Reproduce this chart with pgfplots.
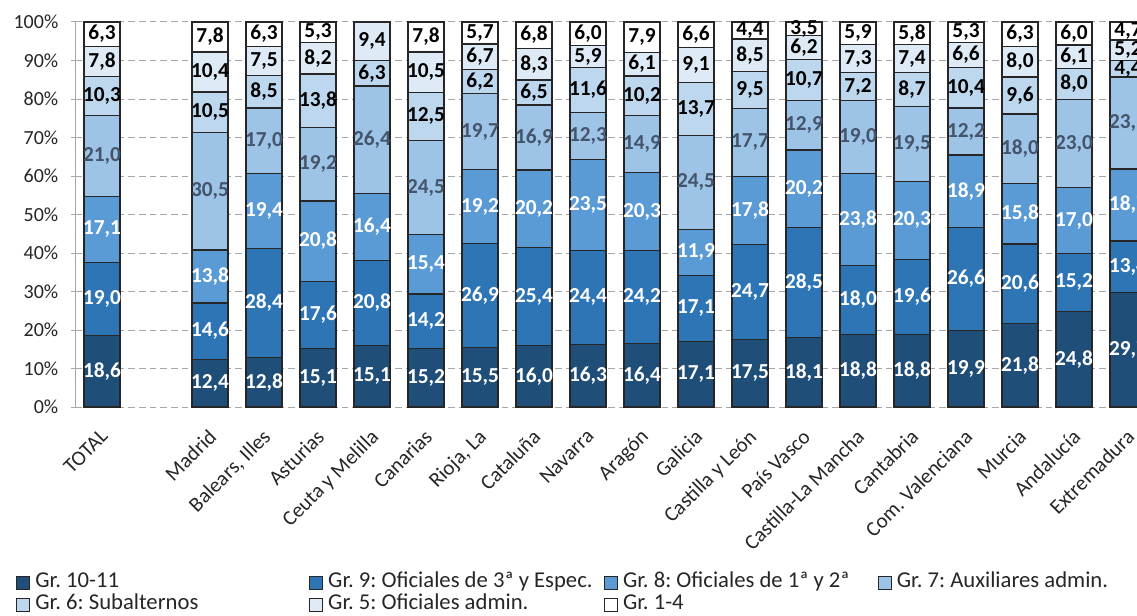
\documentclass[border=0pt]{standalone}
\usepackage{pgfplots}
\pgfplotsset{compat=1.18}
\usepackage{pgfplotstable}
\usepackage{fontspec}
\setmainfont{Carlito}
\frenchspacing

\definecolor{g1011}{RGB}{31,78,121}
\definecolor{g9}{RGB}{46,117,182}
\definecolor{g8}{RGB}{91,155,213}
\definecolor{g7}{RGB}{157,195,230}
\definecolor{g6}{RGB}{189,215,238}
\definecolor{g5}{RGB}{222,235,247}
\definecolor{g14}{RGB}{255,255,255}
\definecolor{edge}{RGB}{38,38,38}
\definecolor{lab7}{RGB}{68,84,106}
\definecolor{gridc}{RGB}{166,166,166}
\definecolor{txt}{RGB}{38,38,38}

% one row per bar; tot = sum of the shown values (bars are drawn as 100%)
\pgfplotstableread{
x  g1   g9   g8   g7   g6   g5   g14  tot
0  18.6 19.0 17.1 21.0 10.3 7.8  6.3  100.1
2  12.4 14.6 13.8 30.5 10.5 10.4 7.8  100.0
3  12.8 28.4 19.4 17.0 8.5  7.5  6.3  99.9
4  15.1 17.6 20.8 19.2 13.8 8.2  5.3  100.0
5  15.1 20.8 16.4 26.4 6.3  9.4  0    94.4
6  15.2 14.2 15.4 24.5 12.5 10.5 7.8  100.1
7  15.5 26.9 19.2 19.7 6.2  6.7  5.7  99.9
8  16.0 25.4 20.2 16.9 6.5  8.3  6.8  100.1
9  16.3 24.4 23.5 12.3 11.6 5.9  6.0  100.0
10 16.4 24.2 20.3 14.9 10.2 6.1  7.9  100.0
11 17.1 17.1 11.9 24.5 13.7 9.1  6.6  100.0
12 17.5 24.7 17.8 17.7 9.5  8.5  4.4  100.1
13 18.1 28.5 20.2 12.9 10.7 6.2  3.5  100.1
14 18.8 18.0 23.8 19.0 7.2  7.3  5.9  100.0
15 18.8 19.6 20.3 19.5 8.7  7.4  5.8  100.1
16 19.9 26.6 18.9 12.2 10.4 6.6  5.3  99.9
17 21.8 20.6 15.8 18.0 9.6  8.0  6.3  100.1
18 24.8 15.2 17.0 23.0 8.0  6.1  6.0  100.1
19 29.7 13.4 18.7 23.9 4.4  5.2  4.7  100.0
}\data

\pgfplotsset{
  frame/.style={
    at={(56.25pt,156pt)}, anchor=south west,
    x=40.5pt, y=2.8875pt,
    xmin=-0.5, xmax=20, ymin=0, ymax=100,
  },
}

% bar segment: #1 column, #2 fill
\newcommand{\seg}[2]{%
  \addplot[fill=#2, draw=edge, line width=0.9pt]
    table[x=x, y expr=\thisrow{#1}*100/\thisrow{tot}] {\data};
}
% value label at the middle of a segment: #1 column, #2 bottom of segment, #3 colour
\newcommand{\lab}[3]{%
  \addplot[draw=none, point meta=explicit,
    x filter/.expression={\thisrow{#1}==0 ? nan : x},
    nodes near coords={\pgfmathprintnumber[fixed,fixed zerofill,precision=1,use comma,assume math mode=true]{\pgfplotspointmeta}},
    nodes near coords style={anchor=center, inner sep=0pt, text=#3,
      font=\bfseries\fontsize{16}{16}\selectfont}]
    table[x=x, y expr=(#2+\thisrow{#1}/2)*100/\thisrow{tot}, meta=#1] {\data};
}

\begin{document}
\begin{tikzpicture}
\begin{axis}[
  frame,
  ybar stacked, bar width=27pt,
  axis y line*=left, axis x line*=bottom,
  x axis line style={draw=none},
  y axis line style={draw=gridc, line width=0.75pt},
  ymajorgrids, grid style={gridc, line width=0.75pt, dash pattern=on 5pt off 3pt},
  ytick={0,10,...,100},
  yticklabels={0\%,10\%,20\%,30\%,40\%,50\%,60\%,70\%,80\%,90\%,100\%},
  ytick style={draw=gridc, line width=0.75pt},
  tick align=outside, major tick length=3pt,
  yticklabel style={font=\fontsize{15}{15}\selectfont, text=txt, xshift=-6pt},
  xtick={0,2,3,...,19},
  xtick style={draw=none},
  xticklabels={TOTAL,Madrid,{Balears, Illes},Asturias,Ceuta y Melilla,Canarias,{Rioja, La},Cataluña,Navarra,Aragón,Galicia,Castilla y León,País Vasco,Castilla-La Mancha,Cantabria,Com. Valenciana,Murcia,Andalucía,Extremadura},
  xticklabel style={xshift=-2pt, yshift=-12.5pt, rotate=45, anchor=north east, inner sep=0pt, text=txt,
    font=\fontsize{15.75}{15.75}\selectfont},
  legend columns=4,
  legend style={at={(rel axis cs:0,0)}, anchor=north west, xshift=-44.25pt, yshift=-123.5pt,
    draw=none, fill=none, inner sep=0pt, row sep=0.5pt,
    font=\fontsize{17}{17}\selectfont,
    nodes={inner sep=0pt, text height=12pt, text depth=4pt, text=txt},
    /tikz/every odd column/.append style={column sep=4pt}},
  legend cell align=left,
  legend image code/.code={\draw[#1, draw=edge, line width=0.6pt] (0pt,-4.9pt) rectangle (9.75pt,4.9pt);},
]
\seg{g1}{g1011}
\addlegendentry{\makebox[205.25pt][l]{Gr. 10-11}}
\seg{g9}{g9}
\addlegendentry{\makebox[206.75pt][l]{Gr. 9: Oficiales de 3ª y Espec.}}
\seg{g8}{g8}
\addlegendentry{\makebox[191pt][l]{Gr. 8: Oficiales de 1ª y 2ª}}
\seg{g7}{g7}
\addlegendentry{Gr. 7: Auxiliares admin.}
\seg{g6}{g6}
\addlegendentry{Gr. 6: Subalternos}
\seg{g5}{g5}
\addlegendentry{Gr. 5: Oficiales admin.}
\seg{g14}{g14}
\addlegendentry{Gr. 1-4}
\end{axis}
% labels in an overlaid axis with the same frame, not stacked
\begin{axis}[frame, hide axis, clip=false]
\lab{g1}{0}{white}
\lab{g9}{\thisrow{g1}}{white}
\lab{g8}{\thisrow{g1}+\thisrow{g9}}{white}
\lab{g7}{\thisrow{g1}+\thisrow{g9}+\thisrow{g8}}{lab7}
\lab{g6}{\thisrow{g1}+\thisrow{g9}+\thisrow{g8}+\thisrow{g7}}{black}
\lab{g5}{\thisrow{g1}+\thisrow{g9}+\thisrow{g8}+\thisrow{g7}+\thisrow{g6}}{black}
\lab{g14}{\thisrow{tot}-\thisrow{g14}}{black}
\end{axis}
\pgfresetboundingbox
\useasboundingbox (0,0) rectangle (852.75pt,461.25pt);
\end{tikzpicture}
\end{document}
